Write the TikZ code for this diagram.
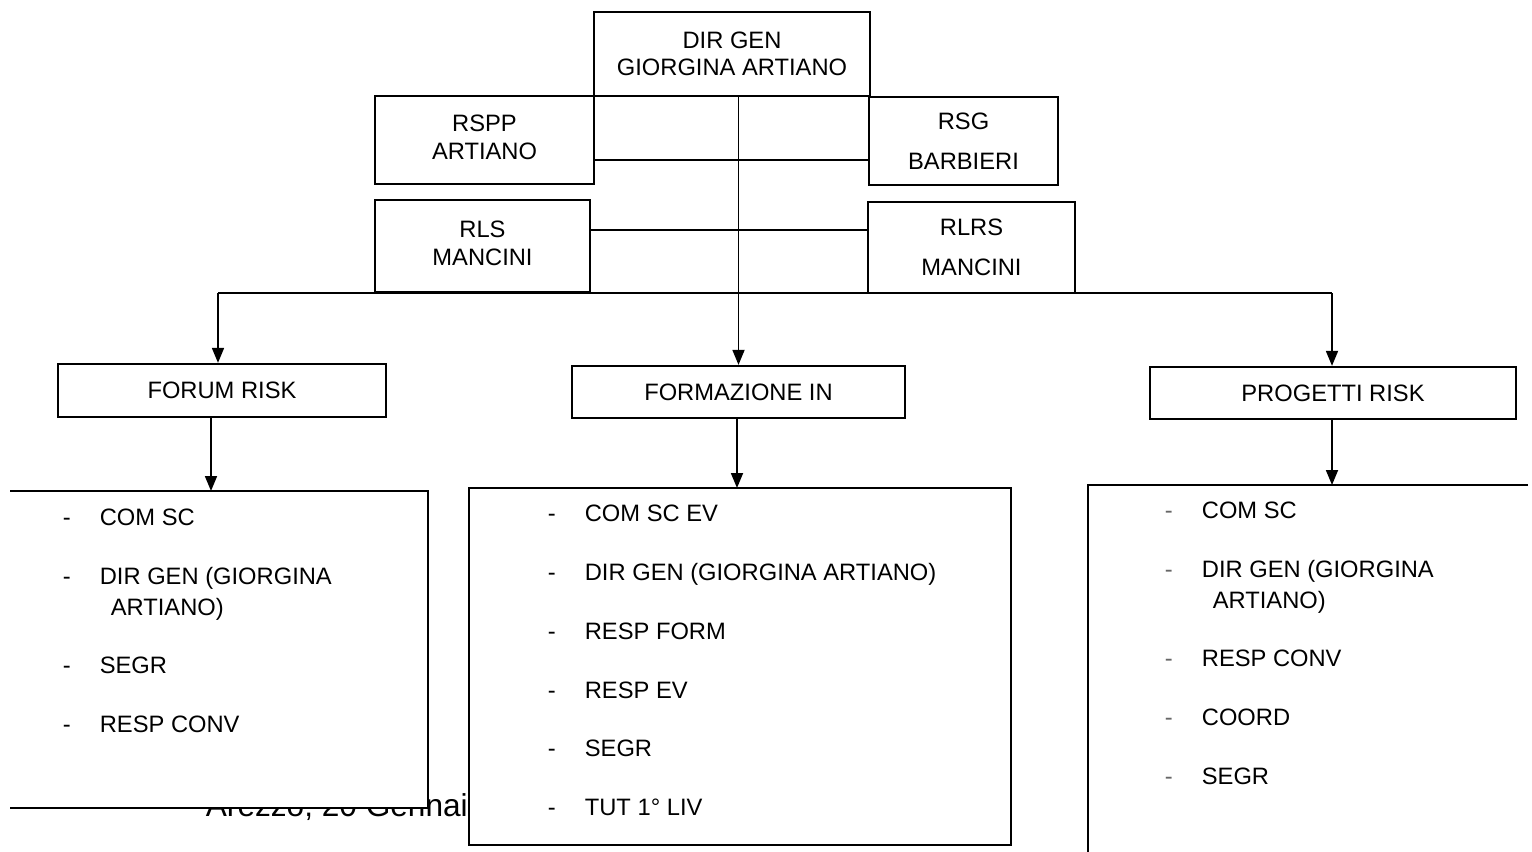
\documentclass[tikz,border=0pt]{standalone}
\usepackage{fontspec}
\setmainfont{Liberation Sans}
\usepackage{tikz}
\usetikzlibrary{arrows.meta, positioning}

\newcommand{\voce}[1]{\makebox[0.74cm][l]{-}#1}
\newcommand{\vocegr}[1]{\makebox[0.74cm][l]{\textcolor{black!60}{-}}#1}

\begin{document}
\begin{tikzpicture}[x=0.02cm, y=-0.02cm,
				>={Triangle[length=0.3cm,width=0.24cm]},
				line width=1pt,
				box/.style={draw, line width=1.3pt, fill=white, align=center, inner sep=0pt,
					font=\fontsize{13.5}{15.5}\selectfont},
				lista/.style={align=left, inner sep=0pt, anchor=north west,
					font=\fontsize{13.5}{17.5}\selectfont}]
				\useasboundingbox (0,0) rectangle (1532,852);
				% text half hidden under the lists
				\node at (205,816) (luogo) [anchor=base west, inner sep=0pt, font=\fontsize{18}{21}\selectfont] {Arezzo, 20 Gennaio};
				% top boxes
				\node at (732,54) (dirgen) [box, minimum width=5.52cm, minimum height=1.68cm] {DIR GEN\\GIORGINA ARTIANO};
				\node at (484.5,140) (rspp) [box, minimum width=4.38cm, minimum height=1.76cm] {\raisebox{0.1cm}{\begin{tabular}{@{}c@{}}RSPP\\ARTIANO\end{tabular}}};
				\node at (963.5,141) (rsg) [box, minimum width=3.78cm, minimum height=1.76cm] {RSG\\[7pt]BARBIERI};
				\node at (482.5,246) (rls) [box, minimum width=4.3cm, minimum height=1.84cm] {\raisebox{0.1cm}{\begin{tabular}{@{}c@{}}RLS\\MANCINI\end{tabular}}};
				\node at (971.5,247.5) (rlrs) [box, minimum width=4.14cm, minimum height=1.82cm] {RLRS\\[7pt]MANCINI};
				% middle boxes
				\node at (222,390.5) (forum) [box, minimum width=6.56cm, minimum height=1.06cm] {FORUM RISK};
				\node at (738.5,392) (formaz) [box, minimum width=6.66cm, minimum height=1.04cm] {FORMAZIONE IN};
				\node at (1333,393) (progetti) [box, minimum width=7.32cm, minimum height=1.04cm] {PROGETTI RISK};
				% links
				\draw ([yshift=-0.4cm]rspp.east) -- ([yshift=-0.4cm]rspp.east -| rsg.west);
				\draw ([yshift=0.32cm]rls.east) -- ([yshift=0.32cm]rls.east -| rlrs.west);
				\coordinate (busl) at (218,293);
				\coordinate (busr) at (1332,293);
				\draw (busl) -- (busr);
				\draw[->] (busl) -- (busl |- forum.north);
				\draw[->] (busr) -- (busr |- progetti.north);
				\draw[->] (formaz |- dirgen.south) -- (formaz.north);
				% list frames
				\fill[white] (10,491) rectangle (428,808);
				\draw[line width=1.3pt] (10,491) -- (428,491) -- (428,808) -- (10,808);
				\draw[line width=1.3pt, fill=white] (469,488) rectangle (1011,845);
				\draw[line width=1.3pt] (1528,485) -- (1088,485) -- (1088,852);
				\coordinate (topforum) at (211,491);
				\coordinate (topformaz) at (737,488);
				\coordinate (topprogetti) at (1332,485);
				\draw[->] (forum.south -| topforum) -- (topforum);
				\draw[->] (formaz.south -| topformaz) -- (topformaz);
				\draw[->] (progetti.south -| topprogetti) -- (topprogetti);
				% lists
				\node at (62,508) (listaforum) [lista] {\voce{COM SC}\\[16pt]
					\voce{DIR GEN (GIORGINA}\\\hspace*{0.96cm}ARTIANO)\\[16pt]
					\voce{SEGR}\\[16pt]
					\voce{RESP CONV}};
				\node at (547,504) (listaformaz) [lista] {\voce{COM SC EV}\\[16pt]
					\voce{DIR GEN (GIORGINA ARTIANO)}\\[16pt]
					\voce{RESP FORM}\\[16pt]
					\voce{RESP EV}\\[16pt]
					\voce{SEGR}\\[16pt]
					\voce{TUT 1° LIV}};
				\node at (1164,501) (listaprogetti) [lista] {\vocegr{COM SC}\\[16pt]
					\vocegr{DIR GEN (GIORGINA}\\\hspace*{0.96cm}ARTIANO)\\[16pt]
					\vocegr{RESP CONV}\\[16pt]
					\vocegr{COORD}\\[16pt]
					\vocegr{SEGR}};
			\end{tikzpicture}
\end{document}
